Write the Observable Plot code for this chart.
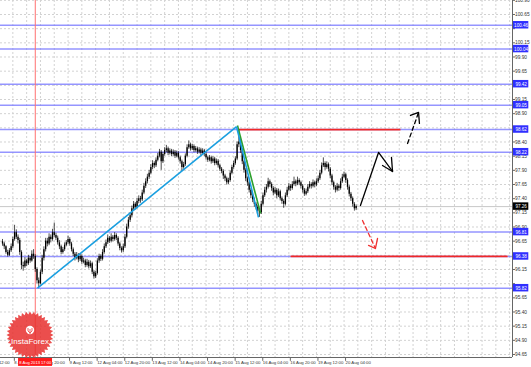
<!DOCTYPE html>
<html><head><meta charset="utf-8">
<script src="https://cdn.jsdelivr.net/npm/d3@7"></script>
<script src="https://cdn.jsdelivr.net/npm/@observablehq/plot@0.6"></script>
<style>html,body{margin:0;padding:0;background:#fff;overflow:hidden}</style>
</head><body><div id="chart"></div>
<script>
// H1 candles [open, high, low, close], bar 0 = 7 Aug 22:00
const candles = [
[96.64,96.68,96.56,96.60],[96.60,96.63,96.50,96.55],[96.55,96.57,96.42,96.45],[96.45,96.49,96.37,96.40],
[96.40,96.52,96.38,96.48],[96.48,96.60,96.45,96.55],[96.55,96.72,96.52,96.68],[96.68,96.93,96.65,96.80],
[96.80,96.85,96.68,96.72],[96.72,96.76,96.60,96.66],[96.66,96.70,96.40,96.45],[96.45,96.48,96.15,96.22],
[96.22,96.28,96.12,96.20],[96.20,96.36,96.17,96.30],[96.30,96.33,96.20,96.25],[96.25,96.40,96.22,96.35],
[96.35,96.38,96.26,96.30],[96.30,96.48,96.28,96.42],[96.42,96.50,96.33,96.38],[96.38,96.41,96.10,96.15],
[96.15,96.18,95.90,95.95],[95.95,96.00,95.83,95.90],[95.90,96.14,95.88,96.10],[96.10,96.40,96.06,96.35],
[96.35,96.55,96.30,96.50],[96.50,96.70,96.46,96.65],[96.65,96.70,96.55,96.60],[96.60,96.78,96.57,96.72],
[96.72,96.76,96.62,96.68],[96.68,96.86,96.65,96.80],[96.80,96.97,96.72,96.75],[96.75,96.79,96.66,96.70],
[96.70,96.74,96.58,96.62],[96.62,96.66,96.50,96.55],[96.55,96.58,96.41,96.45],[96.45,96.54,96.42,96.50],
[96.50,96.62,96.47,96.58],[96.58,96.66,96.55,96.62],[96.62,96.74,96.59,96.68],[96.68,96.71,96.56,96.60],
[96.60,96.63,96.46,96.50],[96.50,96.53,96.38,96.42],[96.42,96.45,96.30,96.35],[96.35,96.45,96.32,96.40],
[96.40,96.43,96.27,96.32],[96.32,96.43,96.29,96.38],[96.38,96.41,96.24,96.28],[96.28,96.35,96.25,96.30],
[96.30,96.33,96.18,96.22],[96.22,96.33,96.19,96.28],[96.28,96.31,96.16,96.20],[96.20,96.30,96.17,96.25],
[96.25,96.28,96.06,96.10],[96.10,96.13,95.98,96.02],[96.02,96.12,95.99,96.08],[96.08,96.34,96.05,96.30],
[96.30,96.42,96.26,96.38],[96.38,96.41,96.29,96.33],[96.33,96.50,96.30,96.45],[96.45,96.60,96.42,96.55],
[96.55,96.67,96.52,96.62],[96.62,96.76,96.59,96.70],[96.70,96.73,96.61,96.65],[96.65,96.78,96.62,96.72],
[96.72,96.75,96.64,96.68],[96.68,96.80,96.65,96.75],[96.75,96.78,96.66,96.70],[96.70,96.73,96.56,96.60],
[96.60,96.63,96.48,96.52],[96.52,96.55,96.44,96.48],[96.48,96.60,96.45,96.55],[96.55,96.77,96.52,96.72],
[96.72,96.95,96.69,96.90],[96.90,97.07,96.86,97.02],[97.02,97.15,96.98,97.10],[97.10,97.27,97.06,97.22],
[97.22,97.35,97.18,97.30],[97.30,97.33,97.20,97.25],[97.25,97.40,97.22,97.35],[97.35,97.45,97.31,97.40],
[97.40,97.44,97.32,97.38],[97.38,97.55,97.35,97.50],[97.50,97.67,97.47,97.62],[97.62,97.75,97.58,97.70],
[97.70,97.83,97.66,97.78],[97.78,97.90,97.74,97.85],[97.85,98.00,97.82,97.95],[97.95,98.07,97.91,98.02],
[98.02,98.05,97.93,97.98],[97.98,98.12,97.95,98.08],[98.08,98.20,98.05,98.15],[98.15,98.27,98.12,98.22],
[98.22,98.25,97.90,98.05],[98.05,98.22,98.02,98.18],[98.18,98.30,98.15,98.25],[98.25,98.34,98.21,98.28],
[98.28,98.31,98.16,98.20],[98.20,98.28,98.17,98.24],[98.24,98.27,98.14,98.18],[98.18,98.26,98.15,98.22],
[98.22,98.25,98.11,98.15],[98.15,98.24,98.12,98.20],[98.20,98.23,98.08,98.12],[98.12,98.15,98.01,98.05],
[98.05,98.08,97.88,97.95],[97.95,98.04,97.92,98.00],[98.00,98.19,97.97,98.15],[98.15,98.35,98.12,98.30],
[98.30,98.42,98.27,98.35],[98.35,98.38,98.24,98.28],[98.28,98.36,98.25,98.32],[98.32,98.35,98.21,98.25],
[98.25,98.32,98.22,98.28],[98.28,98.31,98.18,98.22],[98.22,98.30,98.19,98.26],[98.26,98.29,98.16,98.20],
[98.20,98.28,98.17,98.24],[98.24,98.27,98.14,98.18],[98.18,98.21,98.08,98.12],[98.12,98.15,98.04,98.08],
[98.08,98.16,98.05,98.12],[98.12,98.15,98.01,98.05],[98.05,98.14,98.02,98.10],[98.10,98.13,97.98,98.02],
[98.02,98.10,97.99,98.06],[98.06,98.09,97.94,97.98],[97.98,98.01,97.88,97.92],[97.92,97.95,97.84,97.88],
[97.88,97.91,97.74,97.80],[97.80,97.83,97.70,97.75],[97.75,97.78,97.64,97.68],[97.68,97.76,97.65,97.72],
[97.72,97.89,97.69,97.85],[97.85,97.99,97.82,97.95],[97.95,98.06,97.92,98.02],[98.02,98.14,97.99,98.10],
[98.10,98.40,98.07,98.35],[98.35,98.62,98.30,98.40],[98.40,98.45,98.20,98.25],[98.25,98.28,98.00,98.05],
[98.05,98.08,97.85,97.90],[97.90,97.93,97.70,97.75],[97.75,97.78,97.62,97.68],[97.68,97.71,97.50,97.55],
[97.55,97.58,97.40,97.45],[97.45,97.48,97.33,97.38],[97.38,97.41,97.25,97.30],[97.30,97.33,97.20,97.25],
[97.25,97.28,97.12,97.18],[97.18,97.22,97.07,97.15],[97.15,97.35,97.12,97.30],[97.30,97.50,97.27,97.45],
[97.45,97.60,97.42,97.55],[97.55,97.65,97.50,97.60],[97.60,97.76,97.57,97.70],[97.70,97.73,97.60,97.65],
[97.65,97.68,97.53,97.58],[97.58,97.61,97.45,97.50],[97.50,97.60,97.47,97.55],[97.55,97.58,97.40,97.45],
[97.45,97.57,97.42,97.52],[97.52,97.55,97.36,97.40],[97.40,97.43,97.30,97.35],[97.35,97.38,97.23,97.30],
[97.30,97.50,97.27,97.45],[97.45,97.60,97.42,97.55],[97.55,97.67,97.52,97.62],[97.62,97.65,97.53,97.58],
[97.58,97.70,97.55,97.65],[97.65,97.78,97.62,97.70],[97.70,97.73,97.61,97.66],[97.66,97.78,97.63,97.72],
[97.72,97.75,97.63,97.68],[97.68,97.71,97.57,97.62],[97.62,97.65,97.50,97.55],[97.55,97.58,97.44,97.48],
[97.48,97.57,97.45,97.52],[97.52,97.65,97.49,97.60],[97.60,97.70,97.57,97.65],[97.65,97.68,97.57,97.62],
[97.62,97.73,97.59,97.68],[97.68,97.71,97.59,97.64],[97.64,97.75,97.61,97.70],[97.70,97.80,97.67,97.75],
[97.75,97.90,97.72,97.85],[97.85,98.03,97.82,97.98],[97.98,98.12,97.95,98.02],[98.02,98.05,97.90,97.95],
[97.95,98.05,97.92,98.00],[98.00,98.03,97.87,97.92],[97.92,97.95,97.75,97.80],[97.80,97.83,97.63,97.68],
[97.68,97.71,97.55,97.60],[97.60,97.63,97.50,97.55],[97.55,97.67,97.52,97.62],[97.62,97.65,97.53,97.58],
[97.58,97.75,97.55,97.70],[97.70,97.83,97.67,97.78],[97.78,97.87,97.75,97.82],[97.82,97.85,97.67,97.72],
[97.72,97.75,97.55,97.60],[97.60,97.63,97.43,97.48],[97.48,97.51,97.35,97.40],[97.40,97.43,97.25,97.30],
[97.30,97.33,97.18,97.22],[97.22,97.29,97.19,97.26]
];

// Horizontal support / resistance levels and their labels
const levels = [100.46, 100.04, 99.42, 99.05, 98.62, 98.22, 96.81, 96.38, 95.82];
const levelText = ["100.46","100.04","99.42","99.05","98.62","98.22","96.81","96.38","95.82"];
const currentPrice = 97.26;
const currentText = "97.26";

// Price axis tick values (labels hidden behind level boxes are left out of yLabelTicks)
const yTicks = [94.65,94.90,95.15,95.40,95.65,95.90,96.15,96.40,96.65,96.90,97.15,97.40,97.65,97.90,
  98.15,98.40,98.65,98.90,99.15,99.40,99.65,99.90,100.15,100.40,100.65,100.90];
const yLabelTicks = [94.65,94.90,95.15,95.40,95.65,96.15,96.65,96.90,97.15,97.40,97.65,97.90,
  98.15,98.40,98.90,99.15,99.65,99.90,100.15,100.65,100.90];

// Time axis ticks (bar index) and labels
const xTickIndex = [-10,6,22,38,54,70,86,102,118,134,150,166,182,198];
const xTickLabels = ["7 Aug 12:00","8 Aug 04:00","8 Aug 20:00","9 Aug 12:00","12 Aug 04:00","12 Aug 20:00",
  "13 Aug 12:00","14 Aug 04:00","14 Aug 20:00","15 Aug 12:00","16 Aug 04:00","16 Aug 20:00","19 Aug 12:00","20 Aug 04:00"];
const xGridIndex = [-2,6,14,22,30,38,46,54,62,70,78,86,94,102,110,118,126,134,142,150,158,166,174,182,190,198,
  206,214,222,230,238,246,254,262,270,278,286,294];

// Vertical marker line
const vlineIndex = 19;
const vlineLabel = "8 Aug 2013 17:00";

// Trend lines [x1,y1,x2,y2] in (bar index, price)
const cyanLines = [[20.3,95.82,135.7,98.67],[135.7,98.67,148.4,97.07]];
const greenLines = [[136.2,98.69,149.6,97.14]];
const redSegments = [[136.8,98.62,230.7,98.62],[167,96.38,292.8,96.38]];

// Forecast arrows (polylines in bar index, price)
const solidArrow = [[207.5,97.28],[218.0,98.215],[226.1,97.88]];
const solidHead = [[220.3,97.985],[226.1,97.88],[225.5,98.127]];
const dashArrow = [[234.8,98.374],[241.2,98.921]];
const dashHead = [[236.5,98.868],[241.2,98.921],[241.7,98.727]];
const redArrow = [[208.7,97.015],[216.2,96.521]];
const redHead = [[212.2,96.574],[216.2,96.521],[217.4,96.697]];

const data = candles.map((d, i) => ({i, o: d[0], h: d[1], l: d[2], c: d[3]}));
const seg = a => a.map(s => ({x1: s[0], y1: s[1], x2: s[2], y2: s[3]}));
const pts = a => a.map(p => ({x: p[0], y: p[1]}));

const X0 = -1.16, X1 = 295.65, Y0 = 94.597, Y1 = 100.897;
const font = "Liberation Sans, Arial, sans-serif";

const chart = Plot.plot({
  width: 531, height: 367,
  marginLeft: 0, marginRight: 19, marginTop: 0, marginBottom: 10,
  style: {background: "#fff", fontFamily: font, fontSize: "5px", overflow: "visible"},
  x: {type: "linear", domain: [X0, X1], axis: null},
  y: {type: "linear", domain: [Y0, Y1], axis: null},
  marks: [
    Plot.gridY(yTicks, {stroke: "#d2d2d2", strokeOpacity: 1, strokeDasharray: "2,2"}),
    Plot.gridX(xGridIndex, {stroke: "#d2d2d2", strokeOpacity: 1, strokeDasharray: "2,2"}),
    Plot.ruleY([currentPrice], {stroke: "#c8c8c8", strokeWidth: 1}),
    Plot.ruleY(levels, {stroke: "#7a7aff", strokeOpacity: 0.8, strokeWidth: 1.5}),
    Plot.ruleX([vlineIndex], {stroke: "#ff7070", strokeWidth: 1}),
    Plot.link(seg(redSegments), {x1: "x1", y1: "y1", x2: "x2", y2: "y2", stroke: "#f02828", strokeWidth: 1.7}),
    Plot.ruleX(data, {x: "i", y1: "l", y2: "h", stroke: "#000", strokeWidth: 0.7}),
    Plot.ruleX(data, {x: "i", y1: "o", y2: "c", stroke: "#000", strokeWidth: 1.3}),
    Plot.link(seg(greenLines), {x1: "x1", y1: "y1", x2: "x2", y2: "y2", stroke: "#2ca02c", strokeWidth: 1.6}),
    Plot.link(seg(cyanLines), {x1: "x1", y1: "y1", x2: "x2", y2: "y2", stroke: "#1a9fe0", strokeWidth: 1.6}),
    Plot.line(pts(solidArrow), {x: "x", y: "y", stroke: "#000", strokeWidth: 1.3}),
    Plot.line(pts(solidHead), {x: "x", y: "y", stroke: "#000", strokeWidth: 1.3}),
    Plot.line(pts(dashArrow), {x: "x", y: "y", stroke: "#000", strokeWidth: 1.3, strokeDasharray: "4,3"}),
    Plot.line(pts(dashHead), {x: "x", y: "y", stroke: "#000", strokeWidth: 1.3}),
    Plot.line(pts(redArrow), {x: "x", y: "y", stroke: "#f03030", strokeWidth: 1.3, strokeDasharray: "4,3"}),
    Plot.line(pts(redHead), {x: "x", y: "y", stroke: "#f03030", strokeWidth: 1.3}),
    // frame lines
    Plot.ruleX([X1], {stroke: "#666", strokeWidth: 1}),
    Plot.ruleY([Y0], {stroke: "#666", strokeWidth: 1}),
    // price axis
    Plot.axisY(yTicks, {anchor: "right", tickSize: 2, text: null, stroke: "#666", label: null}),
    Plot.axisY(yLabelTicks, {anchor: "right", tickSize: 0, tickPadding: 2.5, fontSize: 4.8, fill: "#333",
      tickFormat: d => d.toFixed(2), label: null}),
    // time axis
    Plot.axisX(xTickIndex, {anchor: "bottom", tickSize: 3, tickPadding: 0, fontSize: 4.3, stroke: "#666",
      fill: "#333", textAnchor: "start", dx: 1.5, dy: 0.8, label: null,
      tickFormat: d => xTickLabels[xTickIndex.indexOf(d)]}),
    // vertical line date box
    Plot.rect([vlineIndex], {x1: 9.3, x2: 29, y1: 94.579, y2: 94.44, fill: "#ff1a1a"}),
    Plot.text([vlineIndex], {x: d => d, y: 94.51, text: () => vlineLabel, fill: "#fff", fontSize: 4.1}),
    // level label boxes
    Plot.rect(levels, {x1: 296.2, x2: 305.1, y1: d => d - 0.066, y2: d => d + 0.066, fill: "#2f2fff"}),
    Plot.text(levels, {x: 300.65, y: d => d, text: (d, i) => levelText[i], fill: "#fff", fontSize: 4.6}),
    Plot.rect([currentPrice], {x1: 296.2, x2: 305.1, y1: d => d - 0.066, y2: d => d + 0.066, fill: "#000"}),
    Plot.text([currentPrice], {x: 300.65, y: d => d, text: () => currentText, fill: "#fff", fontSize: 4.6})
  ]
});

// InstaForex badge (decoration)
const svg = d3.select(chart);
const g = svg.append("g").attr("transform", "translate(30,335)").attr("opacity", 0.85);
const n = 36, ro = 23.5, ri = 20.5;
const star = d3.range(n * 2).map(k => {
  const a = k * Math.PI / n, r = k % 2 ? ri : ro;
  return [r * Math.sin(a), -r * Math.cos(a)];
});
g.append("path").attr("d", "M" + star.join("L") + "Z").attr("fill", "#e8302e");
g.append("circle").attr("cx", 0).attr("cy", -5).attr("r", 4.2).attr("fill", "#fff");
g.append("path").attr("d", "M-2,-7 L-2,-4 L0,-2 L2,-4 L2,-7 M0,-6 L0,-1").attr("stroke", "#e8302e").attr("stroke-width", 0.9).attr("fill", "none");
g.append("text").attr("x", 0).attr("y", 9).attr("text-anchor", "middle").attr("fill", "#fff")
  .attr("font-size", 8).attr("font-family", font).text("InstaForex");

document.getElementById("chart").append(chart);
</script>
</body></html>
